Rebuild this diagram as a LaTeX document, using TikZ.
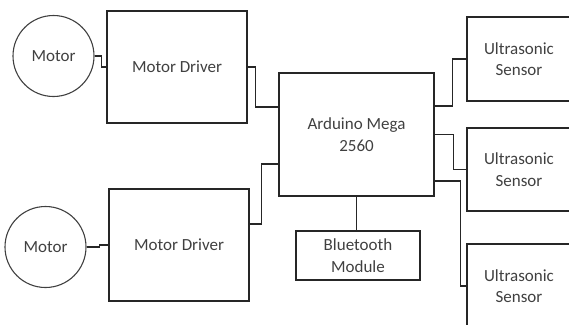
\documentclass[tikz,border=0pt]{standalone}
\usepackage{fontspec}
\setmainfont{Carlito}
\begin{document}
\begin{tikzpicture}[x=1pt,y=-1pt,
  box/.style={draw=black!85,line width=1.2pt,rectangle,align=center,text=black!75,inner sep=0pt,font=\fontsize{17}{21.5}\selectfont},
  motor/.style={draw=black!75,line width=1.1pt,circle,inner sep=0pt,minimum size=81pt,text=black!75,font=\fontsize{17}{21.5}\selectfont},
  wire/.style={draw=black!85,line width=1.2pt}]
\path[use as bounding box] (0,0) rectangle (569,324);
\clip (0,0) rectangle (569,324);
\node[motor] (m1) at (53.5,56) {Motor};
\node[motor] (m2) at (45.5,247) {Motor};
\node[box,minimum width=140pt,minimum height=112pt] (drv1) at (177,67) {Motor Driver};
\node[box,minimum width=140pt,minimum height=112pt] (drv2) at (179,245) {Motor Driver};
\node[box,minimum width=155pt,minimum height=123pt] (ard) at (356.5,134.5) {Arduino Mega\\2560};
\node[box,minimum width=124pt,minimum height=49pt] (bt) at (358,255.5) {Bluetooth\\Module};
\node[box,minimum width=104pt,minimum height=84pt] (s1) at (519,59) {Ultrasonic\\Sensor};
\node[box,minimum width=104pt,minimum height=83pt] (s2) at (519,169.5) {Ultrasonic\\Sensor};
\node[box,minimum width=104pt,minimum height=84pt] (s3) at (519,286) {Ultrasonic\\Sensor};
\draw[wire] (m1.east) -- ++(7,0) |- (drv1.west);
\draw[wire] (m2.east) -- ++(13,0) |- (drv2.west);
\draw[wire] (drv1.east) -- ++(8,0) |- ([yshift=27.5pt]ard.west);
\draw[wire] ([yshift=21pt]drv2.east) -- ++(12,0) |- ([yshift=-29.5pt]ard.west);
\draw[wire] ([yshift=28.5pt]ard.east) -- ++(18,0) |- (s1.west);
\draw[wire] (ard.east) -- ++(19,0) |- (s2.west);
\draw[wire] ([yshift=-46.5pt]ard.east) -- ++(26,0) |- (s3.west);
\draw[wire] (ard.south) -- (ard.south |- bt.north);
\end{tikzpicture}
\end{document}
